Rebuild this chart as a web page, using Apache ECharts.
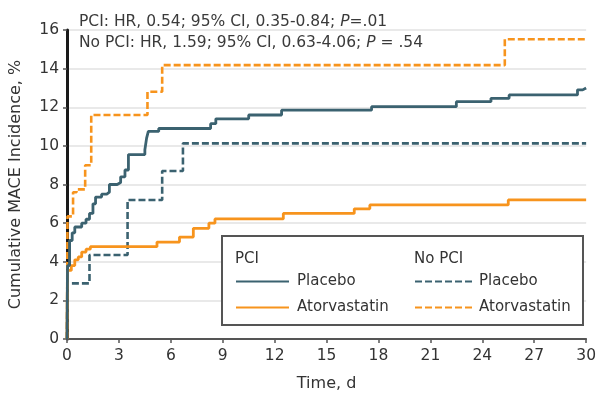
<!DOCTYPE html>
<html>
<head>
<meta charset="utf-8">
<script src="https://cdn.jsdelivr.net/npm/echarts@6/dist/echarts.min.js"></script>
<style>
  html, body { margin: 0; padding: 0; background: #fff; }
  #chart { width: 599px; height: 397px; }
</style>
</head>
<body>
<div id="chart"></div>
<script>
// Kaplan-Meier style cumulative MACE incidence, [day, percent] after each event
const pciPlacebo = [
  [0, 0], [0.03, 3.8], [0.15, 5.1], [0.3, 5.5], [0.45, 5.8], [0.85, 6.0],
  [1.1, 6.2], [1.3, 6.5], [1.5, 7.0], [1.65, 7.35], [2.0, 7.5], [2.3, 7.6],
  [2.45, 8.0], [2.9, 8.1], [3.1, 8.4], [3.35, 8.75], [3.55, 9.55], [4.5, 9.8],
  [4.6, 10.4], [4.7, 10.75], [5.3, 10.9], [8.3, 11.15], [8.6, 11.4],
  [10.5, 11.6], [12.4, 11.85], [17.6, 12.03], [22.5, 12.29], [24.5, 12.46],
  [25.55, 12.64], [29.5, 12.9], [29.8, 13.0], [30, 13.0]
];
const pciAtorvastatin = [
  [0, 0], [0.03, 3.55], [0.25, 3.8], [0.45, 4.1], [0.65, 4.25], [0.85, 4.5],
  [1.1, 4.65], [1.35, 4.78], [5.2, 5.02], [6.5, 5.28], [7.3, 5.73],
  [8.2, 6.0], [8.55, 6.22], [12.5, 6.5], [16.6, 6.74], [17.5, 6.94],
  [25.5, 7.2], [30, 7.2]
];
const noPciPlacebo = [
  [0, 0], [0.03, 2.88], [1.3, 4.35], [3.5, 7.2], [5.5, 8.7], [6.7, 10.13],
  [30, 10.13]
];
const noPciAtorvastatin = [
  [0, 0], [0.03, 6.35], [0.35, 7.6], [0.55, 7.75], [1.05, 9.0], [1.4, 11.6],
  [4.65, 12.8], [5.5, 14.18], [25.3, 15.52], [30, 15.52]
];

const statLines = [
  ['PCI: HR, 0.54; 95% CI, 0.35-0.84; ', 'P', '=.01'],
  ['No PCI: HR, 1.59; 95% CI, 0.63-4.06; ', 'P', ' = .54']
];
const xTicks = { min: 0, max: 30, step: 3 };
const yTicks = { min: 0, max: 16, step: 2 };

const TEAL = '#3b6270';
const ORANGE = '#f7941d';
const FONT = 'DejaVu Sans';

const chart = echarts.init(document.getElementById('chart'));

function kmSeries(name, data, color, dashed) {
  return {
    name: name,
    type: 'line',
    step: 'end',
    data: data,
    symbol: 'none',
    z: 2,
    lineStyle: { color: color, width: dashed ? 2.6 : 2.8, type: dashed ? [7, 3] : 'solid' },
    itemStyle: { color: color }
  };
}

const titleText = statLines.map(function (l) {
  return '{a|' + l[0] + '}{i|' + l[1] + '}{a|' + l[2] + '}';
}).join('\n');

const legendBase = {
  orient: 'vertical', top: 274, padding: 0,
  itemHeight: 14, itemGap: 11, z: 5,
  itemStyle: { opacity: 0 },
  selectedMode: false
};

chart.setOption({
  animation: false,
  backgroundColor: '#fff',
  textStyle: { fontFamily: FONT },
  title: {
    left: 79, top: 11, padding: 0,
    text: titleText,
    textStyle: {
      fontWeight: 'normal',
      rich: {
        a: { fontFamily: FONT, fontSize: 15.5, fontWeight: 'normal', color: '#3a3a3a', lineHeight: 21 },
        i: { fontFamily: FONT, fontSize: 15.5, fontWeight: 'normal', color: '#3a3a3a', fontStyle: 'italic', lineHeight: 21 }
      }
    }
  },
  grid: { left: 67, right: 10, top: 30, bottom: 58, containLabel: false },
  xAxis: {
    type: 'value', min: xTicks.min, max: xTicks.max, interval: xTicks.step,
    name: 'Time, d', nameLocation: 'middle', nameGap: 37,
    nameTextStyle: { fontFamily: FONT, fontSize: 16, color: '#333' },
    axisLine: { show: true, onZero: false, lineStyle: { color: '#555', width: 2 } },
    axisTick: { show: true, length: 4, lineStyle: { color: '#555', width: 1.5 } },
    axisLabel: { margin: 9, fontFamily: FONT, fontSize: 15.5, color: '#333' },
    splitLine: { show: false }
  },
  yAxis: {
    type: 'value', min: yTicks.min, max: yTicks.max, interval: yTicks.step,
    name: 'Cumulative MACE Incidence, %', nameLocation: 'middle', nameGap: 43,
    nameTextStyle: { fontFamily: FONT, fontSize: 16, color: '#333' },
    axisLine: { show: true, lineStyle: { color: '#1a1a1a', width: 3 } },
    axisTick: { show: true, length: 4, lineStyle: { color: '#555', width: 1.5 } },
    axisLabel: { margin: 8, fontFamily: FONT, fontSize: 15.5, color: '#333' },
    splitLine: { show: true, lineStyle: { color: '#e2e2e2', width: 1.5 } }
  },
  legend: [
    Object.assign({}, legendBase, {
      data: ['PCI Placebo', 'PCI Atorvastatin'],
      left: 235, itemWidth: 53,
      formatter: function (n) { return n.replace(/^PCI /, ''); },
      textStyle: { fontFamily: FONT, fontSize: 15, color: '#333', padding: [0, 0, 0, 3] }
    }),
    Object.assign({}, legendBase, {
      data: ['No PCI Placebo', 'No PCI Atorvastatin'],
      left: 414, itemWidth: 59,
      formatter: function (n) { return n.replace(/^No PCI /, ''); },
      textStyle: { fontFamily: FONT, fontSize: 15, color: '#333' }
    })
  ],
  graphic: [
    {
      type: 'rect', z: 3,
      shape: { x: 222, y: 236, width: 361, height: 89 },
      style: { fill: '#fff', stroke: '#555', lineWidth: 2 }
    },
    {
      type: 'text', z: 5, left: 235, top: 252,
      style: { text: 'PCI', font: '15px "DejaVu Sans"', fill: '#333' }
    },
    {
      type: 'text', z: 5, left: 414, top: 252,
      style: { text: 'No PCI', font: '15px "DejaVu Sans"', fill: '#333' }
    }
  ],
  series: [
    kmSeries('No PCI Placebo', noPciPlacebo, TEAL, true),
    kmSeries('No PCI Atorvastatin', noPciAtorvastatin, ORANGE, true),
    kmSeries('PCI Atorvastatin', pciAtorvastatin, ORANGE, false),
    kmSeries('PCI Placebo', pciPlacebo, TEAL, false)
  ]
});
</script>
</body>
</html>
